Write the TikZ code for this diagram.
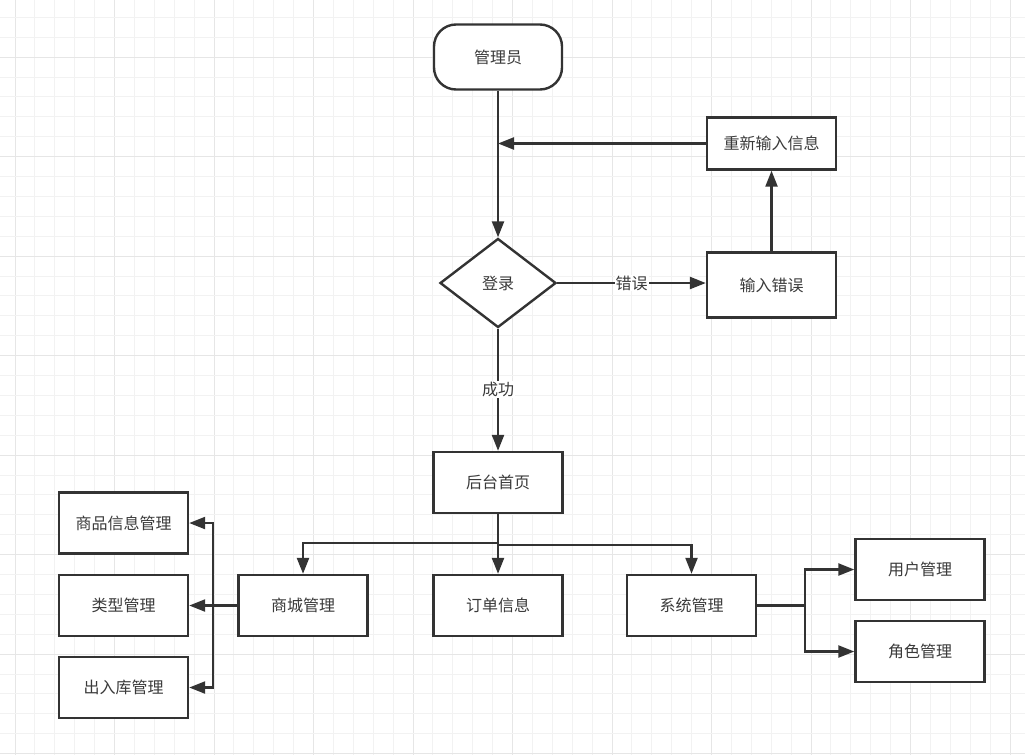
\documentclass[tikz,border=0pt]{standalone}
\usepackage{fontspec}
\newfontfamily\cjk{Noto Sans CJK SC}
\usetikzlibrary{arrows.meta,shapes.geometric,calc}
\definecolor{ink}{HTML}{333333}
\definecolor{txt}{HTML}{3A3A3A}
\definecolor{gridminor}{HTML}{F2F2F2}
\definecolor{gridmajor}{HTML}{E6E6E6}
\tikzset{
  base/.style={draw=ink, line width=2.4pt, fill=white, text=txt, font=\cjk\fontsize{16}{19}\selectfont, inner sep=0pt},
  box/.style={base, rectangle, minimum width=129pt, minimum height=61pt},
  term/.style={base, rectangle, rounded corners=22pt, minimum width=128pt, minimum height=65pt},
  decision/.style={base, diamond, minimum width=116pt, minimum height=89pt, aspect=1.3},
  conn/.style={draw=ink, line width=2.3pt, -{Triangle[length=16pt,width=12pt]}},
  lbl/.style={fill=white, text=txt, font=\cjk\fontsize{16}{19}\selectfont, inner sep=1pt}
}
\begin{document}
\begin{tikzpicture}[x=1pt,y=-1pt]
\useasboundingbox (0,0) rectangle (1025,755);
\fill[white] (0,0) rectangle (1025,755);
% grid
\foreach \i in {0,...,51} {
  \pgfmathsetmacro\gx{15+19.9*\i}
  \pgfmathtruncatemacro\m{mod(\i,5)}
  \ifnum\m=0
    \draw[gridmajor, line width=1pt] (\gx,0) -- (\gx,755);
  \else
    \draw[gridminor, line width=0.9pt] (\gx,0) -- (\gx,755);
  \fi
}
\foreach \j in {0,...,37} {
  \pgfmathsetmacro\gy{17.3+19.9*\j}
  \pgfmathtruncatemacro\m{mod(\j+3,5)}
  \ifnum\m=0
    \draw[gridmajor, line width=1pt] (0,\gy) -- (1025,\gy);
  \else
    \draw[gridminor, line width=0.9pt] (0,\gy) -- (1025,\gy);
  \fi
}
% nodes
\node[term] (admin) at (498,57) {管理员};
\node[box, minimum height=52pt] (reinput) at (771.5,143.5) {重新输入信息};
\node[decision] (login) at (498,283) {登录};
\node[box, minimum height=65pt] (err) at (771.5,285) {输入错误};
\node[box] (home) at (498,482.5) {后台首页};
\node[box] (shop) at (303,605.5) {商城管理};
\node[box] (order) at (498,605.5) {订单信息};
\node[box] (sys) at (691.5,605.5) {系统管理};
\node[box] (goods) at (123.5,523) {商品信息管理};
\node[box] (type) at (123.5,605.5) {类型管理};
\node[box] (stock) at (123.5,687.5) {出入库管理};
\node[box] (user) at (920,569.5) {用户管理};
\node[box] (role) at (920,651.5) {角色管理};
% helper coordinates
\coordinate (j) at (reinput.west -| admin.south);
\coordinate (ej) at (login.east -| err.west);
\coordinate (sb) at (213,605.5);
\coordinate (yb) at (805,605.5);
\coordinate (hl) at (498,543);
\coordinate (hr) at (498,545);
% connectors
\draw[conn] (admin.south) -- (login.north);
\draw[conn] (reinput.west) -- (j);
\draw[conn] (login.east) -- node[lbl] {错误} (ej);
\draw[conn] (err.north) -- (reinput.south);
\draw[conn] (login.south) -- node[lbl] {成功} (home.north);
\draw[conn] (home.south) -- (hl) -| (shop.north);
\draw[conn] (home.south) -- (order.north);
\draw[conn] (home.south) -- (hr) -| (sys.north);
\draw[conn] (shop.west) -- (sb) |- (goods.east);
\draw[conn] (shop.west) -- (type.east);
\draw[conn] (shop.west) -- (sb) |- (stock.east);
\draw[conn] (sys.east) -- (yb) |- (user.west);
\draw[conn] (sys.east) -- (yb) |- (role.west);
\end{tikzpicture}
\end{document}
